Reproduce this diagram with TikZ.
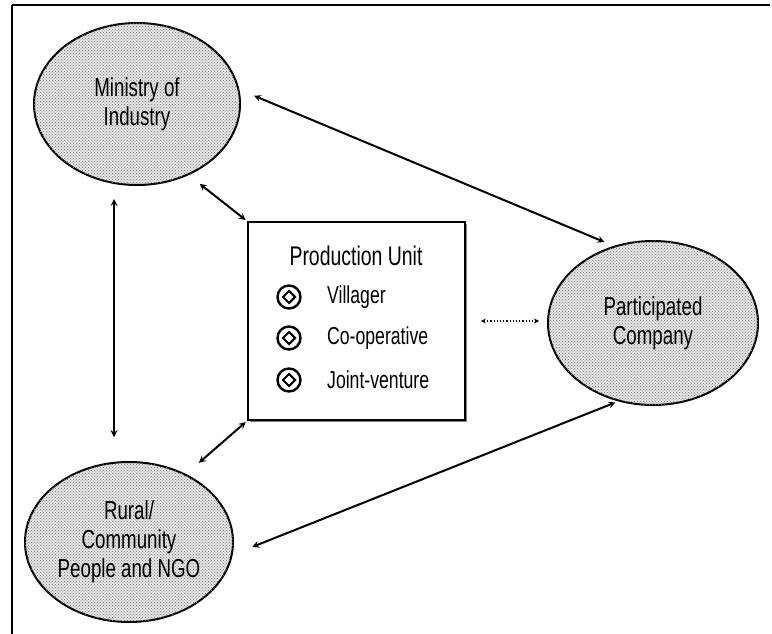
\documentclass[tikz,border=0pt]{standalone}
\usepackage{fontspec}
\newfontfamily\narrowfont[FakeStretch=0.72]{Liberation Sans}
\usetikzlibrary{arrows,shapes.geometric,patterns,shadows}

\tikzset{
    party/.style={ellipse, draw, line width=2pt, fill=black!10,
        postaction={pattern=crosshatch dots, pattern color=black!55},
        minimum width=206pt, minimum height=162pt, inner sep=0pt,
        align=center, font=\narrowfont\fontsize{26}{29}\selectfont},
    unitbox/.style={draw, line width=1.5pt, fill=white,
        drop shadow={shadow xshift=1.5pt, shadow yshift=-1.5pt, fill=black},
        minimum width=217pt, minimum height=198pt},
    bullet/.style={circle, draw, line width=2.4pt, minimum size=23pt, inner sep=0pt},
    item/.style={anchor=west, inner sep=0pt, font=\narrowfont\fontsize{24.5}{28}\selectfont},
    link/.style={<->, line width=2pt},
}

\begin{document}
\begin{tikzpicture}[>=stealth, x=1pt, y=-1pt]

    \useasboundingbox (0,0) rectangle (772,634);

    % ---------- 外框 ----------
    \draw[line width=1.2pt] (12,5) -- (770,5);
    \draw[line width=2.6pt] (12,5) -- (12,634);

    % ---------- 三个参与方（椭圆）----------
    \node[party] (min) at (137,104) {Ministry of\\Industry};
    \node[party, minimum width=210pt, minimum height=164pt] (part) at (653,323) {Participated\\Company};
    \node[party, minimum width=208pt, minimum height=160pt] (rur) at (129,542) {Rural/\\Community\\People and NGO};

    % ---------- 中间的生产单位 ----------
    \node[unitbox] (unit) at (356.5,321) {};
    \node[font=\narrowfont\fontsize{27}{30}\selectfont] (title) at (356,256) {Production Unit};

    \foreach \y/\txt [count=\i] in {297/Villager, 338/Co-operative, 380/Joint-venture}{
        \node[bullet] (b\i) at (289,\y) {};
        \node[diamond, draw, line width=2pt, minimum size=13pt, inner sep=0pt] (d\i) at (b\i) {};
        \node[item] (it\i) at (327,\y) {\txt};
    }

    % ---------- 双向箭头 ----------
    \draw[link, shorten <=16pt, shorten >=10pt] (min.8) -- (part.117);
    \draw[link, shorten <=14pt, shorten >=2pt] (min.-54) -- (unit.north west);
    \draw[link, shorten <=13pt, shorten >=24pt] ([xshift=-23pt]min.south) -- ([xshift=-15pt]rur.north);
    \draw[link, shorten <=2pt, shorten >=17pt] (unit.south west) -- (rur.50);
    \draw[link, shorten <=3pt, shorten >=21pt] (part.-114) -- (rur.-7);

    % 生产单位与公司之间（虚线）
    \draw[<->, dotted, line width=1.2pt, shorten <=15pt, shorten >=8pt] (unit.east) -- (unit.east -| part.west);

\end{tikzpicture}
\end{document}
